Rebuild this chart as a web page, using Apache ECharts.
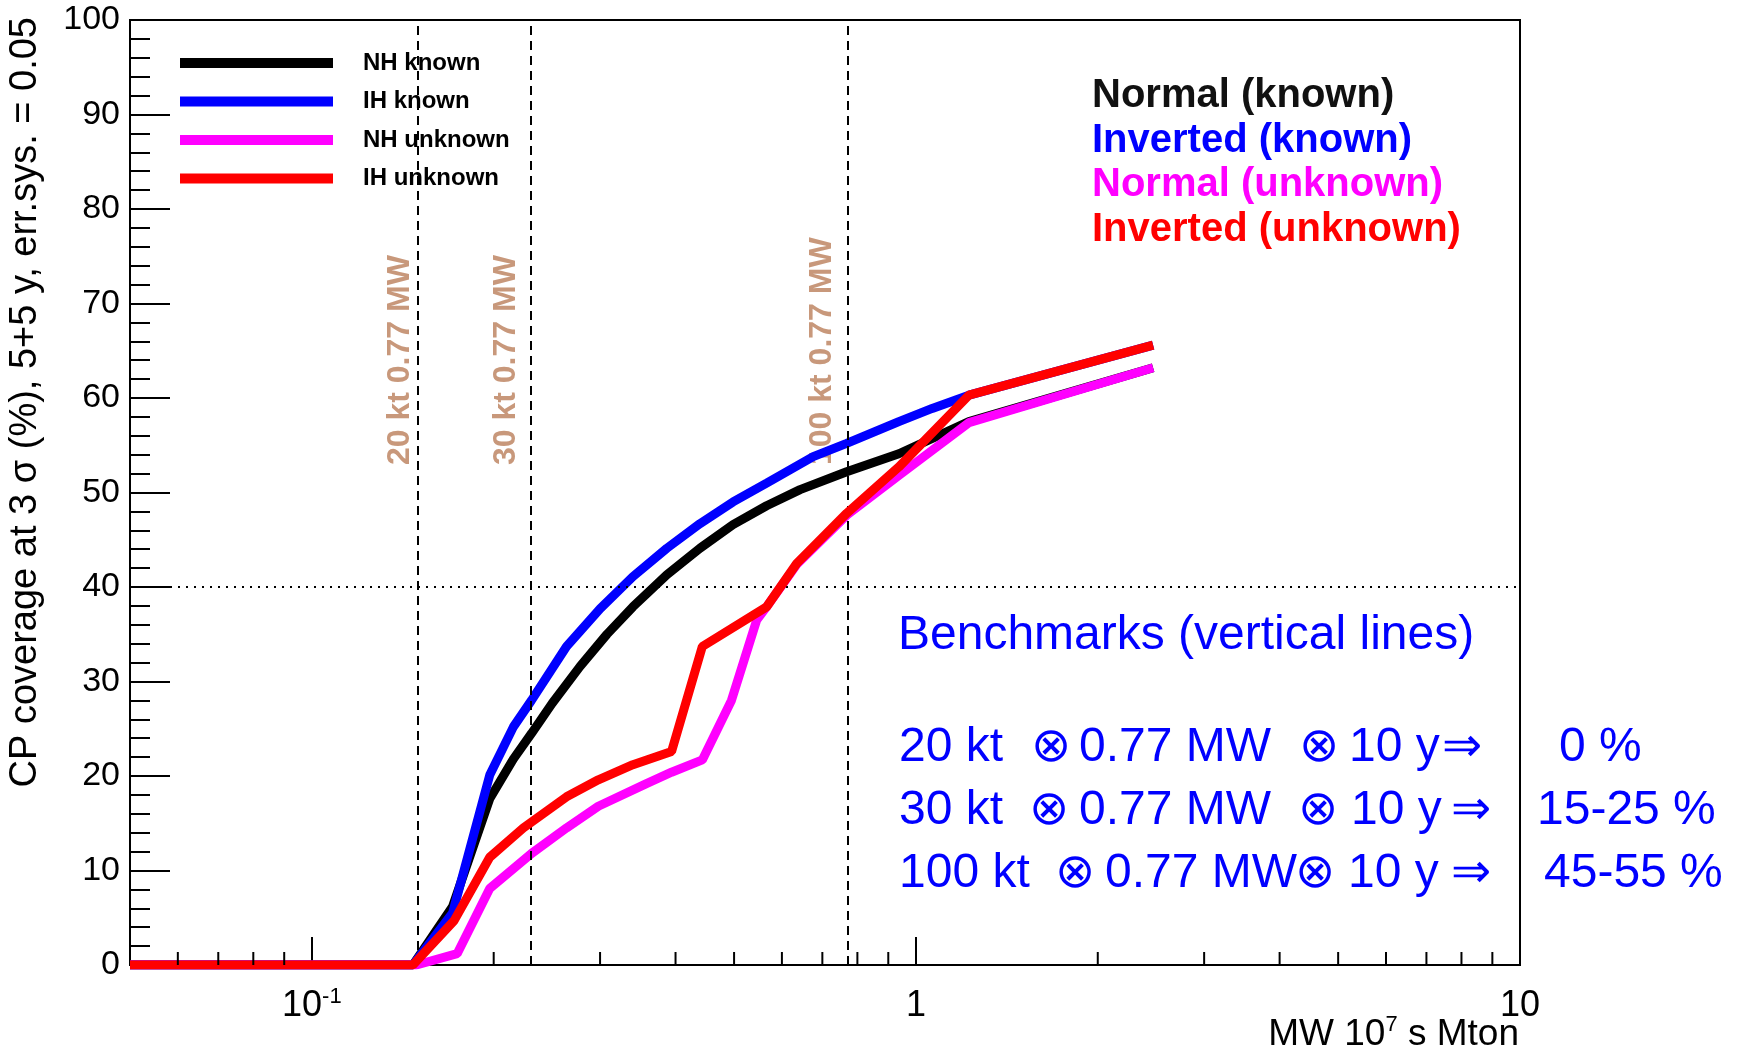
<!DOCTYPE html>
<html>
<head>
<meta charset="utf-8">
<script src="https://cdn.jsdelivr.net/npm/echarts@6/dist/echarts.min.js"></script>
<style>
  html, body { margin: 0; padding: 0; background: #ffffff; }
  #chart { width: 1742px; height: 1054px; }
</style>
</head>
<body>
<div id="chart"></div>
<script>
// Exposure in MW x 10^7 s x Mton, CP coverage at 3 sigma in %
const nhKnownX = [0.05, 0.147, 0.171, 0.197, 0.2156, 0.231, 0.25, 0.278, 0.308, 0.34, 0.387, 0.439, 0.498, 0.566, 0.643, 0.768, 0.937, 1.224, 2.47];
const nhKnownY = [0, 0, 6.2, 17.6, 21.8, 24.5, 27.7, 31.6, 35.0, 37.9, 41.3, 44.1, 46.6, 48.6, 50.3, 52.2, 54.1, 57.5, 63.2];

const ihKnownX = [0.05, 0.147, 0.171, 0.197, 0.2156, 0.231, 0.264, 0.300, 0.340, 0.387, 0.439, 0.498, 0.566, 0.676, 0.768, 0.937, 1.064, 1.224, 2.47];
const ihKnownY = [0, 0, 5.5, 20.1, 25.2, 28.0, 33.7, 37.7, 41.1, 44.1, 46.7, 49.0, 51.0, 53.8, 55.2, 57.5, 58.9, 60.3, 65.6];

const nhUnknownX = [0.05, 0.149, 0.174, 0.197, 0.231, 0.264, 0.298, 0.358, 0.394, 0.443, 0.495, 0.545, 0.566, 0.635, 0.768, 0.937, 1.224, 2.47];
const nhUnknownY = [0, 0, 1.2, 8.1, 11.8, 14.5, 16.8, 19.2, 20.4, 21.7, 28.0, 36.5, 37.9, 42.4, 47.6, 51.8, 57.4, 63.2];

const ihUnknownX = [0.05, 0.147, 0.172, 0.197, 0.224, 0.264, 0.298, 0.340, 0.394, 0.443, 0.566, 0.635, 0.768, 0.937, 1.224, 2.47];
const ihUnknownY = [0, 0, 4.7, 11.4, 14.5, 17.8, 19.6, 21.2, 22.6, 33.7, 37.9, 42.5, 47.8, 52.7, 60.3, 65.6];

// Benchmark exposures: 20, 30, 100 kt x 0.77 MW x 10 y
const benchmarkExposure = [0.154, 0.231, 0.77];
const benchmarkLabels = ['20 kt 0.77 MW', '30 kt 0.77 MW', '100 kt 0.77 MW'];
const coverageReference = 40;

// Log-axis minor tick positions
const xMinorTicks = [0.06, 0.07, 0.08, 0.09, 0.2, 0.3, 0.4, 0.5, 0.6, 0.7, 0.8, 0.9, 2, 3, 4, 5, 6, 7, 8, 9];

const seriesNames = ['NH known', 'IH known', 'NH unknown', 'IH unknown'];
const seriesColors = ['#000000', '#0000ff', '#ff00ff', '#ff0000'];
const hierarchyLabels = ['Normal (known)', 'Inverted (known)', 'Normal (unknown)', 'Inverted (unknown)'];
const hierarchyColors = ['#111111', '#0000ff', '#ff00ff', '#ff0000'];

const yTitle = 'CP coverage at 3 \u03c3 (%), 5+5 y, err.sys. = 0.05';
const benchmarkTitle = 'Benchmarks (vertical lines)';
const benchmarkRows = [
  ['20 kt', '\u2297', '0.77 MW', '\u2297', '10 y', '\u21d2', '0 %'],
  ['30 kt', '\u2297', '0.77 MW', '\u2297', '10 y', '\u21d2', '15-25 %'],
  ['100 kt', '\u2297', '0.77 MW', '\u2297', '10 y', '\u21d2', '45-55 %']
];

const FONT = 'Liberation Sans, Arial, Helvetica, sans-serif';

function zip(xs, ys) { return xs.map((x, i) => [x, ys[i]]); }

const chart = echarts.init(document.getElementById('chart'), null, { renderer: 'canvas' });

function xLabel(v) {
  const e = Math.log10(v);
  const r = Math.round(e);
  if (Math.abs(e - r) > 1e-6) return '';
  if (r < 0) return '{b|10}{s|' + r + '}';
  return '{b|' + Math.pow(10, r) + '}';
}

function curve(idx, xs, ys, z) {
  return {
    name: seriesNames[idx],
    type: 'line',
    data: zip(xs, ys),
    symbol: 'none',
    showSymbol: false,
    smooth: false,
    clip: true,
    z: z,
    lineStyle: { color: seriesColors[idx], width: 9 },
    itemStyle: { color: seriesColors[idx] },
    emphasis: { disabled: true }
  };
}

const option = {
  animation: false,
  backgroundColor: '#ffffff',
  grid: {
    left: 130, right: 222, top: 20, bottom: 89,
    show: true, borderColor: '#000', borderWidth: 2, backgroundColor: 'transparent'
  },
  xAxis: {
    type: 'log',
    logBase: 10,
    min: 0.05,
    max: 10,
    axisLine: { show: true, lineStyle: { color: '#000', width: 2 } },
    axisTick: { show: true, inside: true, length: 28, lineStyle: { color: '#000', width: 2 } },
    minorTick: { show: false },
    splitLine: { show: false },
    axisLabel: {
      interval: 0,
      margin: 21,
      showMinLabel: true,
      showMaxLabel: true,
      formatter: xLabel,
      rich: {
        b: { fontFamily: FONT, fontSize: 36, color: '#000', lineHeight: 40 },
        s: { fontFamily: FONT, fontSize: 22, color: '#000', lineHeight: 24, verticalAlign: 'top' }
      }
    }
  },
  yAxis: {
    type: 'value',
    min: 0,
    max: 100,
    interval: 10,
    axisLine: { show: true, lineStyle: { color: '#000', width: 2 } },
    axisTick: { show: true, inside: true, length: 40, lineStyle: { color: '#000', width: 2 } },
    minorTick: { show: true, splitNumber: 5, length: 20, lineStyle: { color: '#000', width: 2 } },
    splitLine: { show: false },
    minorSplitLine: { show: false },
    axisLabel: { margin: 10, fontFamily: FONT, fontSize: 34, color: '#000' }
  },
  legend: {
    data: seriesNames,
    orient: 'vertical',
    left: 175,
    top: 46,
    icon: 'rect',
    itemWidth: 153,
    itemHeight: 10,
    itemGap: 14.5,
    selectedMode: false,
    itemStyle: { borderWidth: 0 },
    textStyle: {
      fontFamily: FONT, fontSize: 24, fontWeight: 'bold', color: '#000',
      lineHeight: 24, padding: [0, 0, 0, 25]
    }
  },
  series: [
    curve(0, nhKnownX, nhKnownY, 2),
    curve(1, ihKnownX, ihKnownY, 3),
    curve(2, nhUnknownX, nhUnknownY, 4),
    curve(3, ihUnknownX, ihUnknownY, 5),
    {
      name: 'guides',
      type: 'line',
      data: [],
      z: 6,
      silent: true,
      markLine: {
        silent: true,
        symbol: 'none',
        animation: false,
        label: { show: false },
        emphasis: { disabled: true },
        data: benchmarkExposure.map(v => ({
          xAxis: v,
          lineStyle: { color: '#000', width: 2, type: [9, 6] }
        })).concat([{
          yAxis: coverageReference,
          lineStyle: { color: '#000', width: 2, type: [2, 6] }
        }])
      }
    },
    {
      name: 'minorTicks',
      type: 'custom',
      silent: true,
      z: 7,
      clip: false,
      data: xMinorTicks.map(v => [v, 0]),
      renderItem: function (params, api) {
        const p = api.coord([api.value(0), 0]);
        return {
          type: 'line',
          shape: { x1: p[0], y1: p[1], x2: p[0], y2: p[1] - 13 },
          style: { stroke: '#000', lineWidth: 2 }
        };
      }
    }
  ]
};

chart.setOption(option);

// Text annotations placed through the axis scales
const graphics = [];

graphics.push({
  type: 'text', x: 26, y: 17, rotation: Math.PI / 2, silent: true,
  style: { text: yTitle, fontFamily: FONT, fontSize: 38, fill: '#000', align: 'right', verticalAlign: 'middle' }
});

graphics.push({
  type: 'text', x: 1519, y: 1035, silent: true,
  style: {
    text: '{a|MW 10}{s|7}{a| s Mton}',
    align: 'right', verticalAlign: 'middle',
    rich: {
      a: { fontFamily: FONT, fontSize: 37, fill: '#000', color: '#000', lineHeight: 42 },
      s: { fontFamily: FONT, fontSize: 22, fill: '#000', color: '#000', lineHeight: 22, verticalAlign: 'top' }
    }
  }
});

hierarchyLabels.forEach((t, i) => {
  graphics.push({
    type: 'text', x: 1092, y: 96 + i * 44.5, silent: true,
    style: { text: t, fontFamily: FONT, fontSize: 40, fontWeight: 'bold', fill: hierarchyColors[i], align: 'left', verticalAlign: 'middle' }
  });
});

graphics.push({
  type: 'text', x: 898, y: 636, silent: true,
  style: { text: benchmarkTitle, fontFamily: FONT, fontSize: 48, fill: '#0000ff', align: 'left', verticalAlign: 'middle' }
});

const rowY = [748, 811, 874];
const rowCols = [
  [899, 1031, 1079, 1299, 1349, 1442, 1559],
  [899, 1029, 1079, 1298, 1351, 1451, 1537],
  [899, 1055, 1105, 1295, 1348, 1451, 1544]
];
benchmarkRows.forEach((row, r) => {
  row.forEach((t, c) => {
    graphics.push({
      type: 'text', x: rowCols[r][c], y: rowY[r], silent: true,
      style: { text: t, fontFamily: FONT, fontSize: 48, fill: '#0000ff', align: 'left', verticalAlign: 'middle' }
    });
  });
});

benchmarkExposure.forEach((v, i) => {
  const px = chart.convertToPixel({ xAxisIndex: 0 }, v);
  graphics.push({
    type: 'text', x: px - 25, y: 465, rotation: Math.PI / 2, silent: true,
    style: { text: benchmarkLabels[i], fontFamily: FONT, fontSize: 32, fontWeight: 'bold', fill: '#c8987b', align: 'left', verticalAlign: 'middle' }
  });
});

chart.setOption({ graphic: graphics });
</script>
</body>
</html>
